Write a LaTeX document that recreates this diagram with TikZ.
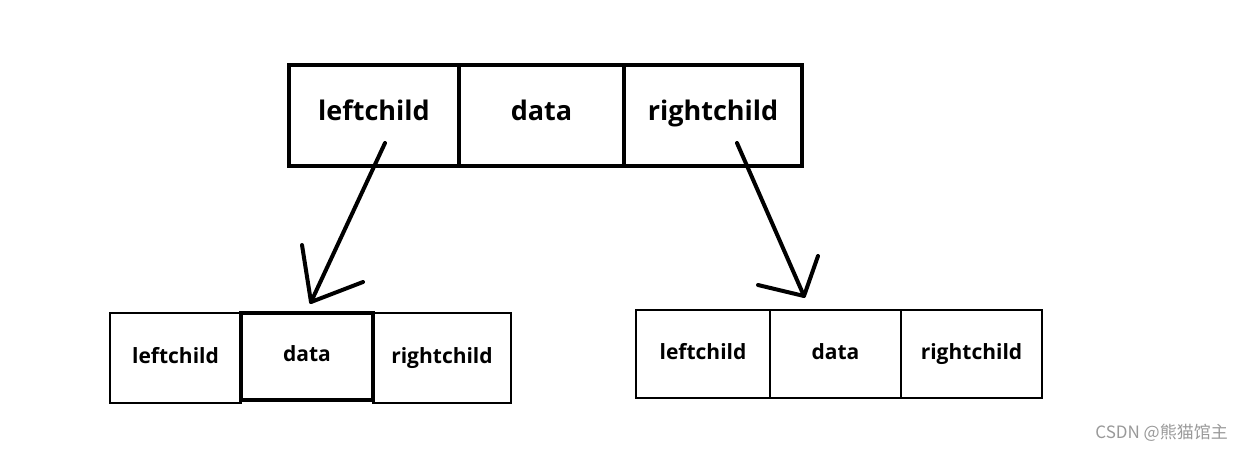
\documentclass[tikz,border=0pt]{standalone}
\usepackage{fontspec}
\setmainfont{Open Sans}
\newfontfamily\cjk{Noto Sans CJK SC}
\begin{document}
\begin{tikzpicture}[x=1pt,y=-1pt,
  cell/.style={draw, rectangle, inner sep=0pt, outer sep=0pt, text height=1.2em, text depth=0.2em},
  bigcell/.style={cell, line width=4.5pt, minimum height=101pt, font=\bfseries\fontsize{27}{30}\selectfont},
  smallcell/.style={cell, line width=2.6pt, font=\bfseries\fontsize{21}{24}\selectfont},
  pen/.style={line width=4pt, line cap=round, line join=round}]
\useasboundingbox (0,0) rectangle (1242,451);
% top node
\node[bigcell, minimum width=170pt] (tl) at (374,115.5) {leftchild};
\node[bigcell, minimum width=165pt] (tm) at (541.5,115.5) {data};
\node[bigcell, minimum width=178pt] (tr) at (713,115.5) {rightchild};
% bottom left node
\node[smallcell, minimum width=131pt, minimum height=90pt] (ll) at (175.5,358) {leftchild};
\node[smallcell, minimum width=138pt, minimum height=90pt] (lr) at (442,358) {rightchild};
\node[smallcell, line width=3.6pt, minimum width=132pt, minimum height=87pt] (lm) at (307,356.5) {data};
% bottom right node
\node[smallcell, minimum width=134pt, minimum height=88pt] (rl) at (703,354) {leftchild};
\node[smallcell, minimum width=131pt, minimum height=88pt] (rm) at (835.5,354) {data};
\node[smallcell, minimum width=141pt, minimum height=88pt] (rr) at (971.5,354) {rightchild};
% arrows
\coordinate (a1s) at (385,143);
\coordinate (a1e) at (311,302);
\coordinate (a1h1) at (302,245);
\coordinate (a1h2) at (363,282);
\coordinate (a2s) at (737,143);
\coordinate (a2e) at (804,296);
\coordinate (a2h1) at (818,256);
\coordinate (a2h2) at (758,285);
\draw[pen] (a1s) -- (a1e);
\draw[pen] (a1h1) -- (a1e) -- (a1h2);
\draw[pen] (a2s) -- (a2e);
\draw[pen] (a2h1) -- (a2e) -- (a2h2);
% watermark
\node[anchor=east, text=black!40, font=\cjk\fontsize{17}{19}\selectfont, inner sep=0pt] (wm) at (1228,433) {CSDN @熊猫馆主};
\end{tikzpicture}
\end{document}
